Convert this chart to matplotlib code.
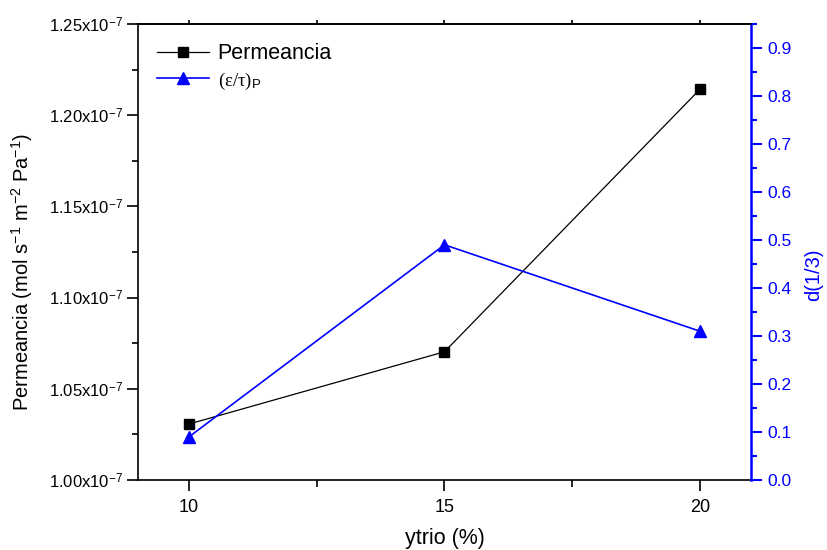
import matplotlib
matplotlib.use("Agg")
import matplotlib.pyplot as plt
from matplotlib.ticker import MultipleLocator, FixedLocator, FixedFormatter

plt.rcParams['font.family'] = ['Liberation Sans', 'DejaVu Sans']
plt.rcParams['mathtext.fontset'] = 'custom'
plt.rcParams['mathtext.rm'] = 'Liberation Serif'
plt.rcParams['mathtext.it'] = 'Liberation Serif:italic'
plt.rcParams['mathtext.sf'] = 'Liberation Sans'
plt.rcParams['axes.unicode_minus'] = False

ytrio = [10, 15, 20]
permeancia = [1.0307e-7, 1.0703e-7, 1.2142e-7]
eps_tau = [0.09, 0.49, 0.31]

left_ticks = [1.00e-7, 1.05e-7, 1.10e-7, 1.15e-7, 1.20e-7, 1.25e-7]
left_labels = [r'1.00x10$^{\mathdefault{-7}}$', r'1.05x10$^{\mathdefault{-7}}$',
               r'1.10x10$^{\mathdefault{-7}}$', r'1.15x10$^{\mathdefault{-7}}$',
               r'1.20x10$^{\mathdefault{-7}}$', r'1.25x10$^{\mathdefault{-7}}$']
right_ticks = [0.0, 0.1, 0.2, 0.3, 0.4, 0.5, 0.6, 0.7, 0.8, 0.9]
right_labels = ['0.0', '0.1', '0.2', '0.3', '0.4', '0.5', '0.6', '0.7', '0.8', '0.9']

fig = plt.figure(figsize=(8.28, 5.5), dpi=100)
ax = fig.add_axes([138/828, 1-480/550, (751-138)/828, (480-24)/550])
ax2 = ax.twinx()

l1, = ax.plot(ytrio, permeancia, color='black', lw=0.9, marker='s', ms=7,
              markerfacecolor='black', markeredgecolor='black', label='Permeancia')
l2, = ax2.plot(ytrio, eps_tau, color='blue', lw=1.2, marker='^', ms=9,
               markerfacecolor='blue', markeredgecolor='blue',
               label=r'$\mathrm{(\epsilon/\tau)}_{\mathsf{P}}$')

ax.set_xlim(9, 21)
ax.set_ylim(1.00e-7, 1.25e-7)
ax2.set_ylim(0, 0.95)

ax.xaxis.set_major_locator(FixedLocator([10, 15, 20]))
ax.xaxis.set_minor_locator(FixedLocator([12.5, 17.5]))
ax.yaxis.set_major_locator(FixedLocator(left_ticks))
ax.yaxis.set_major_formatter(FixedFormatter(left_labels))
ax.yaxis.set_minor_locator(MultipleLocator(0.025e-7))
ax2.set_yticks(right_ticks)
ax2.set_yticklabels(right_labels)
ax2.yaxis.set_minor_locator(MultipleLocator(0.05))

ax.tick_params(axis='y', which='major', direction='out', length=8, width=1.2, labelsize=12, pad=3)
ax.tick_params(axis='y', which='minor', direction='out', length=4, width=1.2)
ax.tick_params(axis='x', which='major', direction='out', length=8, width=1.2, labelsize=13, pad=6,
               top=True)
ax.tick_params(axis='x', which='minor', direction='out', length=5, width=1.2, top=True)
for t in ax.xaxis.get_major_ticks() + ax.xaxis.get_minor_ticks():
    t.tick2line.set_markersize(3)

ax2.tick_params(axis='y', which='major', direction='out', length=8, width=1.5,
                colors='blue', labelsize=12.5, labelcolor='blue', pad=4)
ax2.tick_params(axis='y', which='minor', direction='out', length=4, width=1.5, colors='blue')

for s in ['left', 'bottom', 'top']:
    ax.spines[s].set_linewidth(1.2)
ax2.spines['right'].set_color('blue')
ax2.spines['right'].set_linewidth(1.8)
ax2.spines['left'].set_visible(False)
ax2.spines['top'].set_linewidth(1.2)
ax2.spines['bottom'].set_visible(False)
ax.spines['right'].set_visible(False)

ax.set_xlabel('ytrio (%)', fontsize=15.5, labelpad=8)
ax.set_ylabel(r'Permeancia (mol s$^{\mathdefault{-1}}$ m$^{\mathdefault{-2}}$ Pa$^{\mathdefault{-1}}$)',
              fontsize=14.5)
ax.yaxis.set_label_coords(-0.168, 0.456)
ax2.set_ylabel('d(1/3)', fontsize=14.5, color='blue', rotation=90)
ax2.yaxis.set_label_coords(1.087, 0.45)

leg = ax.legend(handles=[l1, l2], loc='upper left', bbox_to_anchor=(0.0, 1.0),
                frameon=False, fontsize=15.5, handlelength=2.4, numpoints=1,
                handletextpad=0.4, labelspacing=0.3, borderaxespad=0.5)
leg.get_texts()[1].set_fontsize(13.5)

fig.savefig('out.png', dpi=100)
